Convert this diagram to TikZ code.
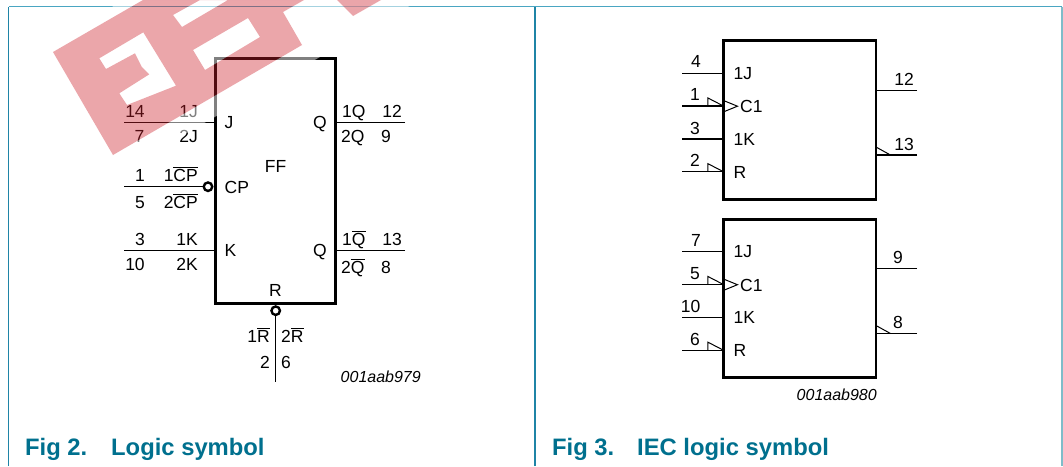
\documentclass[tikz,border=0pt]{standalone}
\usepackage{fontspec}
\setmainfont{Liberation Sans}
\definecolor{paneltop}{HTML}{4AA6C2}
\definecolor{panelleft}{HTML}{1F84A6}
\definecolor{panelright}{HTML}{7FBCC9}
\definecolor{captionteal}{HTML}{00708E}
\definecolor{stampred}{RGB}{204,32,43}
\begin{document}
\begin{tikzpicture}[
x=1pt, y=-1pt,
ffbox/.style={rectangle, draw=black, line width=2.8pt, inner sep=0pt, outer sep=0pt, minimum width=120.5pt, minimum height=244.5pt},
iecbox/.style={rectangle, draw=black, line width=2.8pt, inner sep=0pt, outer sep=0pt, minimum width=152.5pt, minimum height=158.6pt},
wire/.style={draw=black, line width=1.25pt},
tick/.style={draw=black, line width=1pt},
bubble/.style={circle, draw=black, line width=2.4pt, fill=white, inner sep=0pt, outer sep=0pt, minimum size=8.5pt},
txtw/.style={anchor=base west, inner sep=0pt, font=\fontsize{17.5}{20}\selectfont},
txte/.style={anchor=base east, inner sep=0pt, font=\fontsize{17.5}{20}\selectfont},
txtc/.style={anchor=base, inner sep=0pt, font=\fontsize{17.5}{20}\selectfont},
code/.style={anchor=base east, inner sep=0pt, font=\fontsize{16}{18}\selectfont\itshape},
caption/.style={anchor=base west, inner sep=0pt, text=captionteal, font=\fontsize{23.8}{28}\selectfont\bfseries},
]
\useasboundingbox (0,0) rectangle (1063,466);
%panels
\draw[panelleft, line width=1.3pt] (8.5,466) -- (8.5,6.5);
\draw[panelleft, line width=1.3pt] (535,466) -- (535,6.5);
\draw[paneltop, line width=1.3pt] (8.5,6.5) -- (1062,6.5);
\draw[panelright, line width=1.6pt] (1062,6.5) -- (1062,466);
%fig 2 nodes
\node[ffbox](ff) at (275.5,181) {};
\node[bubble](cpbub) at (208,186.7) {};
\node[bubble](rbub) at (275.7,310.7) {};
\coordinate (jend) at (124,122.5);
\coordinate (cpend) at (124,186.7);
\coordinate (kend) at (124,250.7);
\coordinate (qend) at (405,122.5);
\coordinate (nqend) at (405,250.7);
\coordinate (rend) at (275.7,381.7);
%fig 2 connections
\draw[wire] (jend) -- (jend -| ff.west);
\draw[wire] (cpend) -- (cpbub);
\draw[wire] (kend) -- (kend -| ff.west);
\draw[wire] (qend) -- (qend -| ff.east);
\draw[wire] (nqend) -- (nqend -| ff.east);
\draw[wire] (rbub) -- (rend);
%fig 2 labels
\node[txtc](n14) at (135,117) {14};
\node[txte](n1j) at (198,117) {1J};
\node[txtc](n7) at (139.5,142) {7};
\node[txte](n2j) at (198,142) {2J};
\node[txtc](n1) at (140,181) {1};
\node[txte](n1cp) at (198,181) {1$\overline{\mbox{CP}}$};
\node[txtc](n5) at (140,208) {5};
\node[txte](n2cp) at (198,208) {2$\overline{\mbox{CP}}$};
\node[txtc](n3) at (140,245) {3};
\node[txte](n1k) at (198,245) {1K};
\node[txtc](n10) at (135,270) {10};
\node[txte](n2k) at (198,270) {2K};
\node[txtw](nj) at (224.5,128) {J};
\node[txtw](ncp) at (224.5,193) {CP};
\node[txtw](nk) at (224.5,256.5) {K};
\node[txte](nq) at (327,128) {Q};
\node[txte](nqb) at (327,256.5) {Q};
\node[txtc](nff) at (275.5,172) {FF};
\node[txtc](nr) at (275.5,296.5) {R};
\node[txtw](n1q) at (342,117) {1Q};
\node[txtc](n12) at (392,117) {12};
\node[txtw](n2q) at (341,142) {2Q};
\node[txtc](n9) at (386,142) {9};
\node[txtw](n1qb) at (342,245) {1$\overline{\mbox{Q}}$};
\node[txtc](n13) at (392,245) {13};
\node[txtw](n2qb) at (341,273) {2$\overline{\mbox{Q}}$};
\node[txtc](n8) at (386,273) {8};
\node[txte](n1r) at (270,342) {1$\overline{\mbox{R}}$};
\node[txtw](n2r) at (281,342) {2$\overline{\mbox{R}}$};
\node[txte](n2) at (270,368) {2};
\node[txtw](n6) at (281,368) {6};
\node[code](codea) at (421,382.5) {001aab979};
%fig 3 upper nodes
\node[iecbox](ua) at (799.7,120) {};
\coordinate (ujend) at (682,73.3);
\coordinate (ucend) at (682,106);
\coordinate (ukend) at (682,139);
\coordinate (urend) at (682,171.7);
\coordinate (uqend) at (917,90.3);
\coordinate (unend) at (917,155);
%fig 3 upper connections
\draw[wire] (ujend) -- (ujend -| ua.west);
\draw[wire] (ucend) -- (ucend -| ua.west);
\draw[tick] (ucend -| ua.west) -- ++(-15.5,-8) -- ++(0,8);
\draw[wire] (ukend) -- (ukend -| ua.west);
\draw[wire] (urend) -- (urend -| ua.west);
\draw[tick] (urend -| ua.west) -- ++(-15.5,-8) -- ++(0,8);
\draw[wire] (uqend) -- (uqend -| ua.east);
\draw[wire] (unend) -- (unend -| ua.east);
\draw[tick] (unend -| ua.east) ++(14.5,0) -- ++(-14.5,-8);
\draw[tick] (ucend -| ua.west) ++(0,-5.5) -- ++(14,5.7) -- ++(-14,5.7);
%fig 3 upper labels
\node[txtc](u4) at (696,67) {4};
\node[txtc](u1) at (695,100.5) {1};
\node[txtc](u3) at (695,134) {3};
\node[txtc](u2) at (695,166.5) {2};
\node[txtc](u12) at (904,85) {12};
\node[txtc](u13) at (904,150) {13};
\node[txtw](u1j) at (733.5,79) {1J};
\node[txtw](uc1) at (740,112.5) {C1};
\node[txtw](u1k) at (733.5,145) {1K};
\node[txtw](ur) at (733.5,178) {R};
%fig 3 lower nodes
\node[iecbox](la) at (799.7,298.4) {};
\coordinate (ljend) at (682,251.7);
\coordinate (lcend) at (682,284.5);
\coordinate (lkend) at (682,317.5);
\coordinate (lrend) at (682,350.2);
\coordinate (lqend) at (917,268.7);
\coordinate (lnend) at (917,333.5);
%fig 3 lower connections
\draw[wire] (ljend) -- (ljend -| la.west);
\draw[wire] (lcend) -- (lcend -| la.west);
\draw[tick] (lcend -| la.west) -- ++(-15.5,-8) -- ++(0,8);
\draw[wire] (lkend) -- (lkend -| la.west);
\draw[wire] (lrend) -- (lrend -| la.west);
\draw[tick] (lrend -| la.west) -- ++(-15.5,-8) -- ++(0,8);
\draw[wire] (lqend) -- (lqend -| la.east);
\draw[wire] (lnend) -- (lnend -| la.east);
\draw[tick] (lnend -| la.east) ++(14.5,0) -- ++(-14.5,-8);
\draw[tick] (lcend -| la.west) ++(0,-5.5) -- ++(14,5.7) -- ++(-14,5.7);
%fig 3 lower labels
\node[txtc](l7) at (696,246) {7};
\node[txtc](l5) at (695,279) {5};
\node[txtc](l10) at (690.5,312.5) {10};
\node[txtc](l6) at (695,345) {6};
\node[txtc](l9) at (898,263.5) {9};
\node[txtc](l8) at (898,328.5) {8};
\node[txtw](l1j) at (733.5,257.5) {1J};
\node[txtw](lc1) at (740,291) {C1};
\node[txtw](l1k) at (733.5,323.5) {1K};
\node[txtw](lr) at (733.5,356.5) {R};
\node[code](codeb) at (877,400) {001aab980};
%captions
\node[caption](cap2) at (25,455) {Fig 2.};
\node[caption](name2) at (111,455) {Logic symbol};
\node[caption](cap3) at (552,455) {Fig 3.};
\node[caption](name3) at (637,455) {IEC logic symbol};
%stamp
\fill[white, opacity=.5, even odd rule] (34,52) -- (124,0) -- (420,0) -- (113,175) -- cycle
  (53,52) -- (143,0) -- (304,0) -- (283,12) -- (302,45) -- (113,155) -- cycle;
\fill[white, opacity=.5] (248,18) -- (260,37) -- (205,70) -- (193,50) -- cycle;
\fill[white, opacity=.5] (173,15) -- (182,27) -- (228,0) -- (200,0) -- cycle;
\fill[white, opacity=.5] (99.3,58.3) -- (143.3,32.3) -- (176,85.7) -- (127,105) -- (119.3,93.3) -- (149.3,74.3) -- (141.7,66.7) -- (135,53.3) -- (106,69) -- cycle;
\fill[stampred, opacity=.4, even odd rule] (53,52) -- (143,0) -- (304,0) -- (283,12) -- (302,45) -- (113,155) -- cycle
  (248,18) -- (260,37) -- (205,70) -- (193,50) -- cycle
  (173,15) -- (182,27) -- (228,0) -- (200,0) -- cycle
  (99.3,58.3) -- (143.3,32.3) -- (176,85.7) -- (127,105) -- (119.3,93.3) -- (149.3,74.3) -- (141.7,66.7) -- (135,53.3) -- (106,69) -- cycle;
\fill[stampred, opacity=.4] (337,0) -- (353,16) -- (381,0) -- cycle;
\end{tikzpicture}
\end{document}
